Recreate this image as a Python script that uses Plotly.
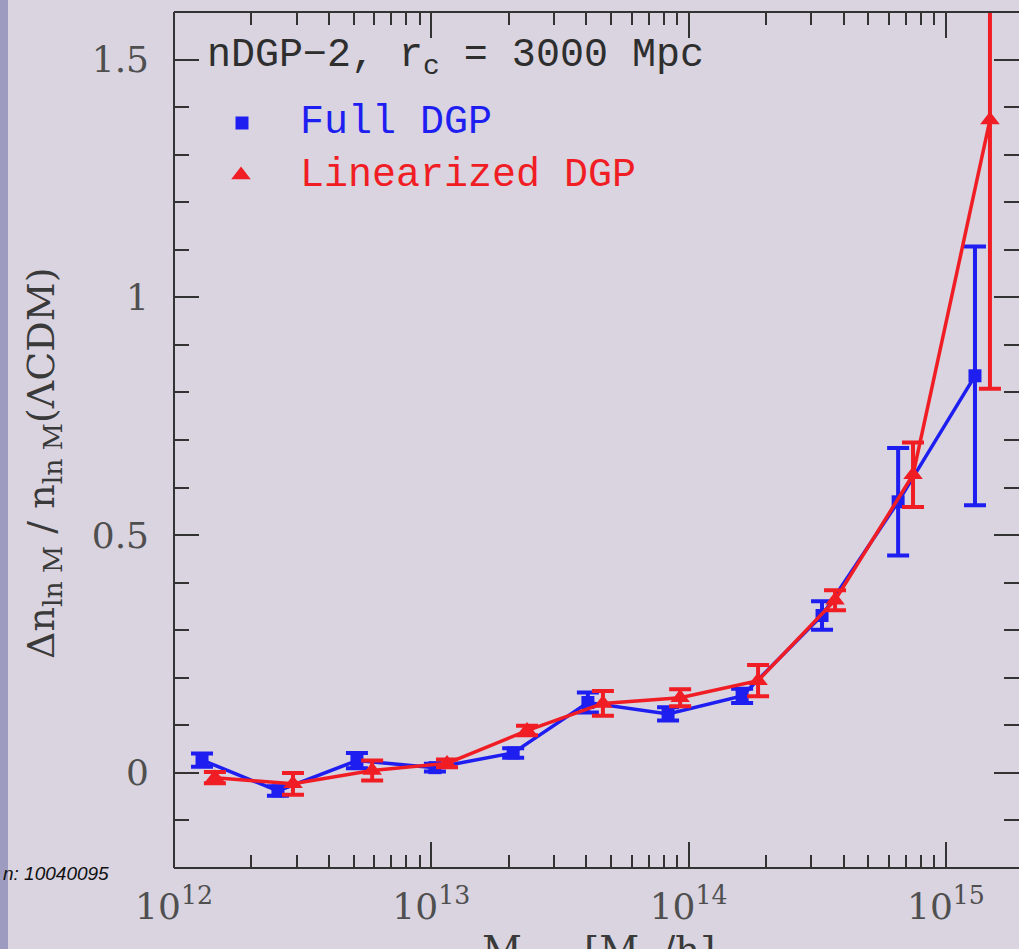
import plotly.graph_objects as go

# Halo mass bins [M_sun/h] and fractional mass-function deviation from LCDM
mass_full = [1.285e12, 2.535e12, 5.14e12, 1.033e13, 2.08e13, 4.06e13,
             8.32e13, 1.614e14, 3.30e14, 6.52e14, 1.297e15]
dn_full = [0.027, -0.038, 0.026, 0.011, 0.042, 0.148,
           0.124, 0.162, 0.331, 0.570, 0.835]
err_full = [0.014, 0.010, 0.016, 0.008, 0.010, 0.021,
            0.014, 0.015, 0.030, 0.113, 0.272]

mass_lin = [1.442e12, 2.90e12, 5.89e12, 1.151e13, 2.355e13, 4.645e13,
            9.27e13, 1.862e14, 3.707e14, 7.45e14, 1.483e15]
dn_lin = [-0.010, -0.023, 0.005, 0.020, 0.089, 0.146,
          0.158, 0.194, 0.363, 0.627, 1.373]
err_lin = [0.012, 0.023, 0.021, 0.008, 0.010, 0.026,
           0.018, 0.033, 0.021, 0.068, 0.565]

x_tickvals = [1e12, 1e13, 1e14, 1e15]
x_ticktext = ["10<sup>12</sup>", "10<sup>13</sup>", "10<sup>14</sup>", "10<sup>15</sup>"]
y_tickvals = [0, 0.5, 1, 1.5]
y_ticktext = ["0", "0.5", "1", "1.5"]

W, H = 1019, 949
L, R, T, B = 174, 0, 12, 81
PW, PH = W - L - R, H - T - B

BG = "#d9d4e0"
INK = "#333333"
LABEL = "#4f4f4f"
BLUE = "#1e1ef0"
RED = "#f01e24"
SERIF = "DejaVu Serif"
MONO = "Liberation Mono"


def px_x(p):
    return (p - L) / PW


def px_y(p):
    return (H - B - p) / PH


fig = go.Figure()

fig.add_trace(go.Scatter(
    x=mass_full, y=dn_full, mode="lines+markers", name="Full DGP",
    line=dict(color=BLUE, width=3.5),
    marker=dict(symbol="square", size=13, color=BLUE),
    error_y=dict(type="data", array=err_full, color=BLUE, thickness=4, width=11),
    showlegend=False,
))
fig.add_trace(go.Scatter(
    x=mass_lin, y=dn_lin, mode="lines+markers", name="Linearized DGP",
    line=dict(color=RED, width=3.5),
    marker=dict(symbol="triangle-up", size=17, color=RED),
    error_y=dict(type="data", array=err_lin, color=RED, thickness=4, width=11),
    showlegend=False,
))

# key symbols on an overlay axis spanning the plot area
fig.add_trace(go.Scatter(
    x=[px_x(242)], y=[px_y(123)], xaxis="x2", yaxis="y2", mode="markers",
    marker=dict(symbol="square", size=13, color=BLUE), showlegend=False,
    hoverinfo="skip",
))
fig.add_trace(go.Scatter(
    x=[px_x(241)], y=[px_y(175)], xaxis="x2", yaxis="y2", mode="markers",
    marker=dict(symbol="triangle-up", size=17, color=RED), showlegend=False,
    hoverinfo="skip",
))

axis_common = dict(
    ticks="inside", tickcolor=INK, tickwidth=2, mirror="ticks",
    showline=False, showgrid=False, zeroline=False,
    tickfont=dict(family=SERIF, size=36, color=LABEL),
)

fig.update_layout(
    width=W, height=H,
    margin=dict(l=L, r=R, t=T, b=B),
    paper_bgcolor=BG, plot_bgcolor=BG,
    xaxis=dict(
        type="log", range=[12, 15.284],
        tickvals=x_tickvals, ticktext=x_ticktext, ticklen=26,
        minor=dict(ticks="inside", ticklen=13, tickcolor=INK, tickwidth=2,
                   dtick="D1", showgrid=False),
        ticklabelstandoff=14,
        **axis_common,
    ),
    yaxis=dict(
        range=[-0.2, 1.6],
        tickvals=y_tickvals, ticktext=y_ticktext, ticklen=25,
        minor=dict(ticks="inside", ticklen=15, tickcolor=INK, tickwidth=2,
                   dtick=0.1, tick0=0, showgrid=False),
        ticklabelstandoff=24,
        **axis_common,
    ),
    xaxis2=dict(overlaying="x", range=[0, 1], visible=False),
    yaxis2=dict(overlaying="y", range=[0, 1], visible=False),
    shapes=[
        # frame: left, bottom, top
        dict(type="line", xref="paper", yref="paper", x0=0, x1=0, y0=0, y1=1,
             line=dict(color=INK, width=2), layer="above"),
        dict(type="line", xref="paper", yref="paper", x0=0, x1=1, y0=0, y1=0,
             line=dict(color=INK, width=2), layer="above"),
        dict(type="line", xref="paper", yref="paper", x0=0, x1=1, y0=1, y1=1,
             line=dict(color=INK, width=2), layer="above"),
        # screen edge strip
        dict(type="rect", xref="paper", yref="paper",
             x0=px_x(-2), x1=px_x(8), y0=px_y(H + 2), y1=px_y(-2),
             fillcolor="#9d9cc0", line=dict(width=0), layer="below"),
    ],
    annotations=[
        dict(text="nDGP\u22122, r<sub>c</sub> = 3000 Mpc", xref="paper", yref="paper",
             x=px_x(205), y=px_y(58), xanchor="left", yanchor="middle", showarrow=False,
             font=dict(family=MONO, size=40, color="#2e2e2e")),
        dict(text="Full DGP", xref="paper", yref="paper",
             x=px_x(298), y=px_y(123), xanchor="left", yanchor="middle", showarrow=False,
             font=dict(family=MONO, size=40, color=BLUE)),
        dict(text="Linearized DGP", xref="paper", yref="paper",
             x=px_x(298), y=px_y(176), xanchor="left", yanchor="middle", showarrow=False,
             font=dict(family=MONO, size=40, color=RED)),
        dict(text="\u0394n<sub>ln M</sub> / n<sub>ln M</sub>(\u039bCDM)",
             xref="paper", yref="paper", x=px_x(44), y=px_y(463),
             xanchor="center", yanchor="middle", textangle=-90, showarrow=False,
             font=dict(family=SERIF, size=38, color="#3a3a3a")),
        dict(text="M<sub>vir</sub>  [M<sub>\u2299</sub>/h]",
             xref="paper", yref="paper", x=px_x(598), y=px_y(926),
             xanchor="center", yanchor="top", showarrow=False,
             font=dict(family=SERIF, size=39, color="#3a3a3a")),
        dict(text="<i>n: 10040095</i>", xref="paper", yref="paper",
             x=px_x(111), y=px_y(873), xanchor="right", yanchor="middle", showarrow=False,
             font=dict(family="Liberation Sans", size=19, color="#111111")),
    ],
)

fig.write_html("out.html")
